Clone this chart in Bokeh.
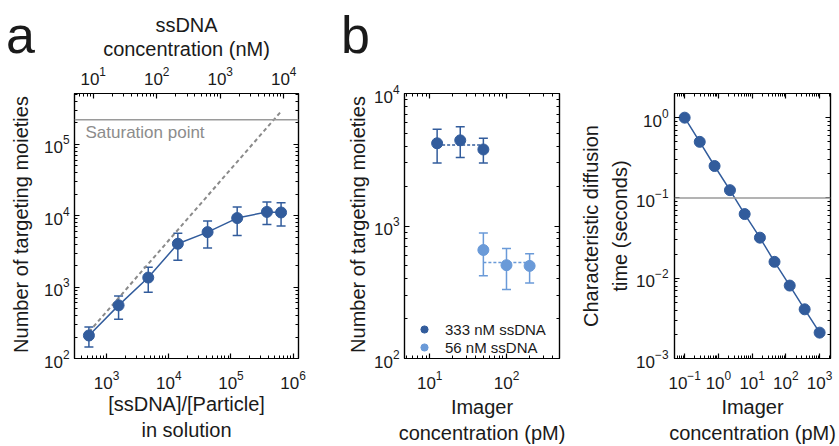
from math import pi
from bokeh.plotting import figure
from bokeh.models import (LogAxis, LinearAxis, Range1d, LogScale, Whisker, TeeHead, Span,
                          Label, Legend, LegendItem, ColumnDataSource, FixedTicker,
                          CustomJSTickFormatter)
from bokeh.layouts import row
from bokeh.embed import file_html
from bokeh.resources import INLINE

FONT = "Liberation Sans"
DARK = "#325C9C"
LIGHT = "#6A9AD8"
GRAY = "#9a9a9a"
DASHGRAY = "#8a8a8a"
TXT = "#1a1a1a"

# ---------------- data: panel a ----------------
a_ratio = [520, 1560, 4680, 14000, 42100, 126000, 379000, 640000]
a_moieties = [210, 555, 1360, 4050, 5890, 9270, 11300, 11100]
a_upper = [276, 753, 1900, 5690, 8410, 13200, 15500, 15200]
a_lower = [145, 355, 850, 2370, 3520, 5270, 7560, 7180]
a_ideal_x = [520, 620000]
a_ideal_y = [235, 280000]
a_saturation = 2.2e5
a_saturation_label = "Saturation point"
a_ylabel = "Number of targeting moieties"

# ---------------- data: panel b (left) ----------------
b_dark_x = [12.5, 25, 50]
b_dark_y = [4210, 4430, 3780]
b_dark_upper = [5380, 5610, 4590]
b_dark_lower = [2990, 3290, 2990]
b_dark_mean = 4090
b_light_x = [50, 100, 200]
b_light_y = [659, 506, 500]
b_light_upper = [887, 676, 617]
b_light_lower = [422, 331, 371]
b_light_mean = 530
b_labels = ["333 nM ssDNA", "56 nM ssDNA"]
b_ylabel = "Number of targeting moieties"

# ---------------- data: panel b (right) ----------------
c_x = [0.1, 0.28, 0.77, 2.2, 6.0, 17, 46, 130, 360, 1000]
c_y = [1.0, 0.5, 0.25, 0.125, 0.063, 0.032, 0.016, 0.0081, 0.0041, 0.0021]
c_threshold = 0.1

panel_letters = ["a", "b"]

H = 446


def log_ticker(lo, hi):
    majors = [10.0 ** e for e in range(lo, hi + 1)]
    minors = [m * 10.0 ** e for e in range(lo - 1, hi + 1) for m in range(2, 10)]
    return FixedTicker(ticks=majors, minor_ticks=minors)


def style_axis(ax, show_labels=True):
    ax.major_tick_in = 5
    ax.major_tick_out = 0
    ax.minor_tick_in = 3
    ax.minor_tick_out = 0
    ax.axis_line_color = "black"
    ax.axis_line_width = 1.2
    ax.major_tick_line_color = "black"
    ax.minor_tick_line_color = "black"
    ax.major_tick_line_width = 1.2
    ax.minor_tick_line_width = 1
    ax.major_label_text_font = FONT
    ax.major_label_text_color = TXT
    ax.major_label_text_font_size = "17px"
    ax.axis_label_text_font = FONT
    ax.axis_label_text_font_size = "20px"
    ax.axis_label_text_font_style = "normal"
    ax.axis_label_text_color = TXT
    if show_labels:
        ax.major_label_standoff = 5
    else:
        ax.formatter = CustomJSTickFormatter(code="return '';")
        ax.major_label_standoff = 0


def make_fig(width, xr, yr, bl, br, bt, bb):
    p = figure(width=width, height=H, x_axis_type="log", y_axis_type="log",
               x_range=xr, y_range=yr, output_backend="svg", toolbar_location=None,
               min_border_left=bl, min_border_right=br, min_border_top=bt,
               min_border_bottom=bb)
    p.xgrid.visible = False
    p.ygrid.visible = False
    p.outline_line_color = "black"
    p.outline_line_width = 1.2
    p.background_fill_color = "white"
    p.border_fill_color = "white"
    return p


def text_strip(width, letter, ylabel, ylabel_x):
    """Narrow axis-free figure: panel letter (as a top axis title) and rotated y label."""
    s = figure(width=width, height=H, x_range=Range1d(0, width), y_range=Range1d(0, 1),
               output_backend="svg", toolbar_location=None, x_axis_location=None,
               y_axis_location=None, min_border_left=0, min_border_right=0,
               min_border_top=93, min_border_bottom=85)
    s.title.visible = False
    s.xgrid.visible = False
    s.ygrid.visible = False
    s.outline_line_color = None
    s.background_fill_color = "white"
    s.border_fill_color = "white"
    lax = LinearAxis(ticker=FixedTicker(ticks=[]), axis_label=letter)
    lax.axis_line_color = None
    lax.major_tick_line_color = None
    lax.minor_tick_line_color = None
    lax.major_label_standoff = 0
    lax.axis_label_standoff = 30
    lax.axis_label_text_font = FONT
    lax.axis_label_text_font_size = "52px"
    lax.axis_label_text_font_style = "normal"
    lax.axis_label_text_color = TXT
    s.add_layout(lax, "above")
    # frame spans page y 93..361; the label is centred at page y 227
    s.add_layout(Label(x=ylabel_x, y=134, x_units="screen", y_units="screen",
                       text=ylabel, angle=pi / 2, text_align="center",
                       text_baseline="middle", text_font=FONT, text_font_size="20px",
                       text_color=TXT))
    return s


def whisker(p, x, up, lo, color):
    src = ColumnDataSource(dict(x=x, upper=up, lower=lo))
    w = Whisker(base="x", upper="upper", lower="lower", source=src, dimension="height",
                line_color=color, line_width=1.5,
                upper_head=TeeHead(size=9, line_color=color, line_width=1.5),
                lower_head=TeeHead(size=9, line_color=color, line_width=1.5))
    p.add_layout(w)


# ================= strip with letter a + y label =================
sa = text_strip(40, panel_letters[0], a_ylabel, 20)

# ================= panel a =================
pa = make_fig(300, Range1d(305, 1.22e6), Range1d(100, 5.15e5), 31, 42, 93, 85)
pa.xaxis.ticker = log_ticker(3, 6)
pa.yaxis.ticker = log_ticker(2, 5)
pa.xaxis.axis_label = "[ssDNA]/[Particle]\nin solution"
style_axis(pa.xaxis[0])
style_axis(pa.yaxis[0])
pa.xaxis.major_label_standoff = 12
pa.xaxis.axis_label_standoff = 1

pa.extra_x_ranges = {"top": Range1d(5.07, 17100)}
pa.extra_x_scales = {"top": LogScale()}
top_ax = LogAxis(x_range_name="top", ticker=log_ticker(1, 4),
                 axis_label="ssDNA\nconcentration (nM)")
style_axis(top_ax)
top_ax.major_label_standoff = 9
top_ax.axis_label_standoff = 4
top_ax.axis_label_text_line_height = 1.05
pa.add_layout(top_ax, "above")
ra = LogAxis(ticker=log_ticker(2, 5))
style_axis(ra, False)
pa.add_layout(ra, "right")

pa.add_layout(Span(location=a_saturation, dimension="width", line_color=GRAY, line_width=1.5))
pa.add_layout(Label(x=11, y=226, x_units="screen", y_units="screen", text=a_saturation_label,
                    text_baseline="middle", text_font=FONT, text_font_size="17px",
                    text_color="#8c8c8c"))
pa.line(a_ideal_x, a_ideal_y, line_color=DASHGRAY, line_dash="4 3", line_width=2)
pa.line(a_ratio, a_moieties, line_color=DARK, line_width=1.5)
whisker(pa, a_ratio, a_upper, a_lower, DARK)
pa.scatter(a_ratio, a_moieties, size=11, fill_color=DARK, line_color=DARK)

# ================= strip with letter b + y label =================
sb = text_strip(30, panel_letters[1], b_ylabel, 17)

# ================= panel b (left) =================
pb = make_fig(200, Range1d(4.7, 490), Range1d(100, 10000), 33, 11, 93, 85)
pb.xaxis.ticker = log_ticker(1, 2)
pb.yaxis.ticker = log_ticker(2, 4)
pb.xaxis.axis_label = "Imager\nconcentration (pM)"
style_axis(pb.xaxis[0])
style_axis(pb.yaxis[0])
pb.xaxis.major_label_standoff = 12
pb.xaxis.axis_label_standoff = 4
tb = LogAxis(ticker=log_ticker(1, 2))
style_axis(tb, False)
pb.add_layout(tb, "above")
rb = LogAxis(ticker=log_ticker(2, 4))
style_axis(rb, False)
pb.add_layout(rb, "right")

pb.line([b_dark_x[0], b_dark_x[-1]], [b_dark_mean, b_dark_mean], line_color=DARK,
        line_dash="3 2", line_width=1.5)
pb.line([b_light_x[0], b_light_x[-1]], [b_light_mean, b_light_mean], line_color=LIGHT,
        line_dash="3 2", line_width=1.5)
whisker(pb, b_dark_x, b_dark_upper, b_dark_lower, DARK)
whisker(pb, b_light_x, b_light_upper, b_light_lower, LIGHT)
r_dark = pb.scatter(b_dark_x, b_dark_y, size=11, fill_color=DARK, line_color=DARK)
r_light = pb.scatter(b_light_x, b_light_y, size=11, fill_color=LIGHT, line_color=LIGHT)
leg = Legend(items=[LegendItem(label=b_labels[0], renderers=[r_dark]),
                    LegendItem(label=b_labels[1], renderers=[r_light])],
             location=(9, 2), border_line_alpha=0, background_fill_alpha=0,
             label_text_font=FONT, label_text_font_size="15px", label_text_color=TXT,
             glyph_width=22, glyph_height=18, spacing=0, padding=0, margin=0,
             label_standoff=10, label_height=18)
pb.add_layout(leg)

# ================= panel b (right) =================
pc = make_fig(269, Range1d(0.05, 2100), Range1d(0.001, 2.0), 104, 9, 93, 85)
pc.xaxis.ticker = log_ticker(-1, 3)
pc.yaxis.ticker = log_ticker(-3, 0)
pc.xaxis.axis_label = "Imager\nconcentration (pM)"
pc.yaxis.axis_label = "Characteristic diffusion\ntime (seconds)"
style_axis(pc.xaxis[0])
style_axis(pc.yaxis[0])
pc.xaxis.major_label_standoff = 12
pc.xaxis.axis_label_standoff = 4
pc.yaxis.major_label_standoff = 6
pc.yaxis.axis_label_standoff = 2
pc.yaxis.axis_label_text_line_height = 1.3
tc = LogAxis(ticker=log_ticker(-1, 3))
style_axis(tc, False)
pc.add_layout(tc, "above")
rc = LogAxis(ticker=log_ticker(-3, 0))
style_axis(rc, False)
pc.add_layout(rc, "right")

pc.add_layout(Span(location=c_threshold, dimension="width", line_color=GRAY, line_width=1.5))
pc.line(c_x, c_y, line_color=DARK, line_width=1.5)
pc.scatter(c_x, c_y, size=11, fill_color=DARK, line_color=DARK)

layout = row(sa, pa, sb, pb, pc)
open("out.html", "w").write(file_html(layout, INLINE))
